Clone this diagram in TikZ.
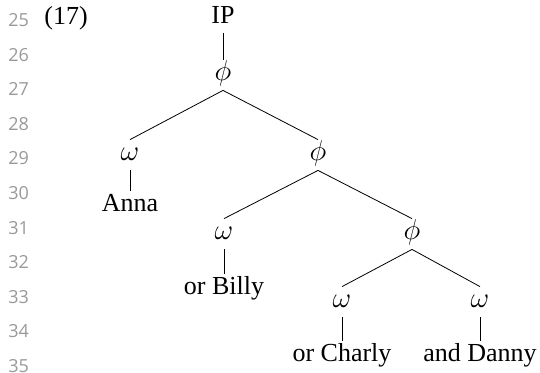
\documentclass[tikz,border=0pt]{standalone}
\usepackage{fontspec}
\setmainfont{Liberation Serif}
\newfontfamily\linenofont{Open Sans}
\tikzstyle{lineno}=[text=black!40, font=\linenofont\fontsize{9}{11}\selectfont, anchor=west, inner sep=0pt]
\tikzstyle{cat}=[inner sep=2.5pt, text height=7.5pt, text depth=2.5pt, font=\fontsize{15}{17}\selectfont]
\tikzstyle{word}=[inner sep=2.5pt, text height=7.5pt, text depth=2pt]
\tikzstyle{branch}=[line width=0.4pt]

\begin{document}
\begin{tikzpicture}[x=0.5pt,y=-0.5pt,font=\fontsize{13}{15}\selectfont]
    \useasboundingbox (0,0) rectangle (540,372);
    % line numbers
    \foreach \n [count=\i from 0] in {25,...,35}
        \node[lineno] (ln\n) at (8,20+34.6*\i) {\n};
    \node[anchor=west, inner sep=0pt] (exnum) at (44,18) {(17)};

    % tree
    \node[word] (ip) at (223,18) {IP};
    \node[cat] (phiA) at (223,75) {$\phi$};
    \node[cat] (omA) at (130,155) {$\omega$};
    \node[word] (anna) at (130,206) {Anna};
    \node[cat] (phiB) at (318,155) {$\phi$};
    \node[cat] (omB) at (224,234) {$\omega$};
    \node[word] (billy) at (224,289) {or Billy};
    \node[cat] (phiC) at (412,234) {$\phi$};
    \node[cat] (omC) at (342,302) {$\omega$};
    \node[word] (charly) at (342,356) {or Charly};
    \node[cat] (omD) at (480,302) {$\omega$};
    \node[word] (danny) at (480,356) {and Danny};

    \draw[branch] (ip.south) -- (phiA.north);
    \draw[branch] (phiA.south) -- (omA.north);
    \draw[branch] (phiA.south) -- (phiB.north);
    \draw[branch] (omA.south) -- (anna.north);
    \draw[branch] (phiB.south) -- (omB.north);
    \draw[branch] (phiB.south) -- (phiC.north);
    \draw[branch] (omB.south) -- (billy.north);
    \draw[branch] (phiC.south) -- (omC.north);
    \draw[branch] (phiC.south) -- (omD.north);
    \draw[branch] (omC.south) -- (charly.north);
    \draw[branch] (omD.south) -- (danny.north);
\end{tikzpicture}
\end{document}
